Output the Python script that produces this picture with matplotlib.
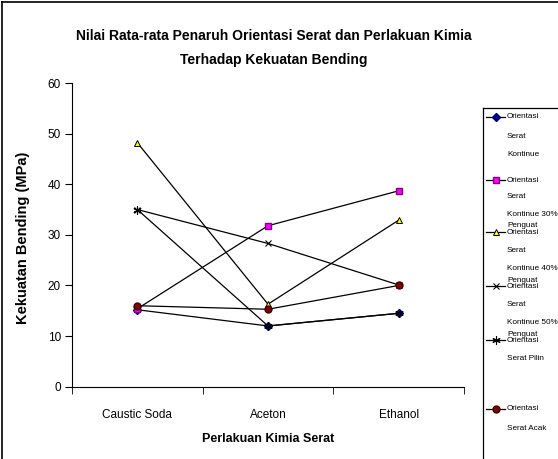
import matplotlib
matplotlib.use("Agg")
import matplotlib.pyplot as plt
from matplotlib.lines import Line2D

plt.rcParams['font.family'] = ['Liberation Sans', 'DejaVu Sans']

perlakuan = ["Caustic Soda", "Aceton", "Ethanol"]

kontinue = [15.2, 12.0, 14.5]
kontinue30 = [15.4, 31.8, 38.7]
kontinue40 = [48.2, 16.3, 32.9]
kontinue50 = [35.0, 28.3, 20.1]
pilin = [35.0, 12.0, 14.5]
acak = [16.0, 15.3, 20.0]

seri = [kontinue, kontinue30, kontinue40, kontinue50, pilin, acak]
label_legend = [
    ["Orientasi", "Serat", "Kontinue"],
    ["Orientasi", "Serat", "Kontinue 30%", "Penguat"],
    ["Orientasi", "Serat", "Kontinue 40%", "Penguat"],
    ["Orientasi", "Serat", "Kontinue 50%", "Penguat"],
    ["Orientasi", "Serat Pilin"],
    ["Orientasi", "Serat Acak"],
]
gaya = [
    dict(marker="D", mfc="#000080", mec="#000080", ms=4),
    dict(marker="s", mfc="#ff00ff", mec="#800080", ms=4.5),
    dict(marker="^", mfc="#ffff00", mec="black", ms=5, mew=0.7),
    dict(marker="x", mfc="none", mec="black", ms=5, mew=0.8),
    dict(marker=(6, 2, 0), mfc="none", mec="black", ms=6, mew=0.8),
    dict(marker="o", mfc="#800000", mec="#400000", ms=5),
]

W, H = 558, 459
fig = plt.figure(figsize=(W / 100, H / 100), dpi=100)
ax = fig.add_axes([72 / W, 1 - 386.7 / H, (464 - 72) / W, (386.7 - 83) / H])

x = range(len(perlakuan))
for s, g in zip(seri, gaya):
    ax.plot(x, s, color="black", lw=0.9, clip_on=False, **g)

ax.set_xlim(-0.5, 2.5)
ax.set_ylim(0, 60)
ax.set_yticks(range(0, 61, 10))
ax.set_xticks(list(x))
ax.set_xticklabels(perlakuan, fontsize=8.5)
ax.set_xticks([-0.5, 0.5, 1.5, 2.5], minor=True)
ax.tick_params(axis="x", which="major", length=0, pad=16)
ax.tick_params(axis="x", which="minor", length=5, direction="out")
ax.tick_params(axis="y", length=5, direction="out", labelsize=8.5, pad=3)
ax.spines["top"].set_visible(False)
ax.spines["right"].set_visible(False)
ax.set_xlabel("Perlakuan Kimia Serat", fontsize=9, fontweight="bold", labelpad=9)
ax.set_ylabel("Kekuatan Bending (MPa)", fontsize=10.5, fontweight="bold")
ax.yaxis.set_label_coords(-42 / 392, 0.49)

fig.text(0.49, 1 - 36 / H, "Nilai Rata-rata Penaruh Orientasi Serat dan Perlakuan Kimia",
         ha="center", va="center", fontsize=10, fontweight="bold")
fig.text(0.49, 1 - 60 / H, "Terhadap Kekuatan Bending",
         ha="center", va="center", fontsize=10, fontweight="bold")

# bingkai luar
fig.add_artist(Line2D([2 / W, 2 / W], [0, 1 - 1.5 / H], color="black", lw=1.2))
fig.add_artist(Line2D([2 / W, 1], [1 - 1.5 / H, 1 - 1.5 / H], color="black", lw=1.2))

# kotak legenda
fig.add_artist(Line2D([483 / W, 483 / W], [0, 1 - 108 / H], color="black", lw=0.9))
fig.add_artist(Line2D([483 / W, 1], [1 - 108 / H, 1 - 108 / H], color="black", lw=0.9))

posisi = [117, 180, 232, 286, 340, 409]
jarak = [[0, 19, 37], [0, 17, 34, 46], [0, 18, 36, 48], [0, 18, 36, 48], [0, 18], [0, 19]]
for yy, g, lab, jr in zip(posisi, gaya, label_legend, jarak):
    yf = 1 - yy / H
    fig.add_artist(Line2D([486 / W, 505 / W], [yf, yf], color="black", lw=0.9))
    fig.add_artist(Line2D([495.5 / W], [yf], color="black", lw=0, **g))
    for t, d in zip(lab, jr):
        fig.text(507 / W, 1 - (yy + d) / H, t, ha="left", va="center", fontsize=5.9)

fig.savefig("out.png", dpi=100)
